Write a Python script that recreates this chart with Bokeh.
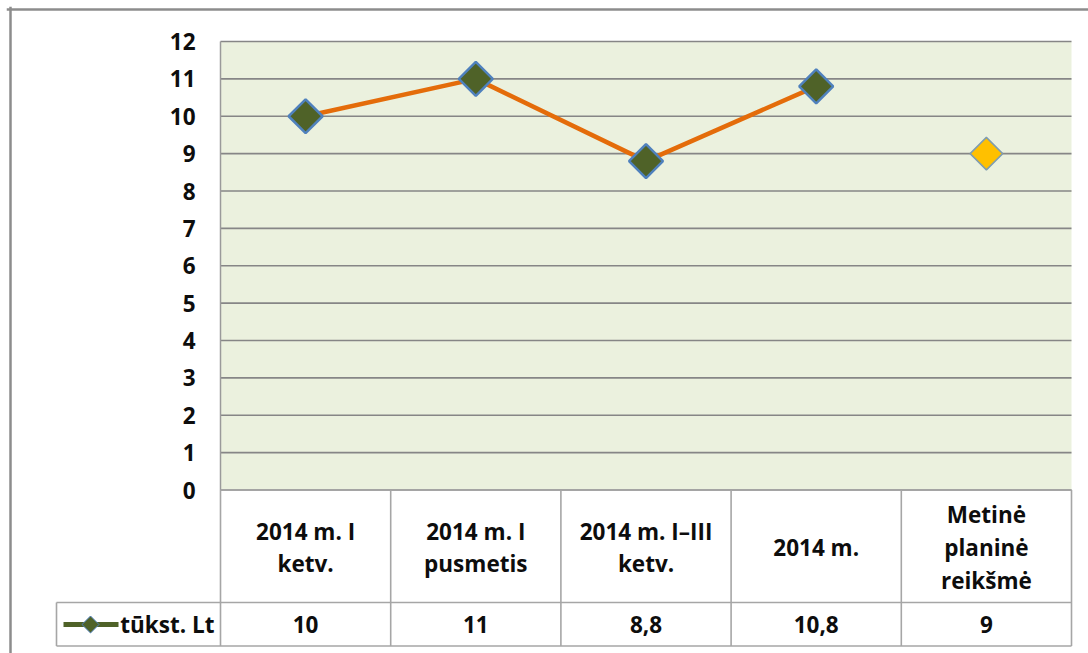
import numpy as np
from bokeh.plotting import figure
from bokeh.models import Range1d, LinearAxis, FixedTicker, ColumnDataSource, Span
from bokeh.core.properties import value
from bokeh.embed import file_html
from bokeh.resources import INLINE

# ---- data ----
categories = ["2014 m. I\nketv.", "2014 m. I\npusmetis", "2014 m. I\u2013III\nketv.",
              "2014 m.", "Metin\u0117\nplanin\u0117\nreik\u0161m\u0117"]
values = [10, 11, 8.8, 10.8, 9]
value_labels = ["10", "11", "8,8", "10,8", "9"]
series_name = "t\u016bkst. Lt"
y_ticks = list(range(0, 13))

# ---- layout constants (page pixels) ----
ORIGIN = 0              # where the figure lands on the page
W, H = 1088, 653
FL, FT = 6, 6           # frame left / top on page
FR, FB = ORIGIN + W, ORIGIN + H
PL, PR = 220, 1071      # plot area left / right
PT, P0 = 41, 489.5      # y=12 / y=0
n = len(categories)
cw = (PR - PL) / n
s = (P0 - PT) / 12.0

x_start = (FL - PL) / cw
x_end = (FR - PL) / cw
y_end = 12 + (PT - FT) / s
y_start = -(FB - P0) / s

def py(px):
    return -(px - P0) / s

def pxx(px):
    return (px - PL) / cw

row1_bot = py(602)
row2_bot = py(645.5)
leg_left = pxx(56)

FONT_NAME = "Open Sans"
FONT = value(FONT_NAME)
FS = "22.5px"
GRID = "#868686"
TAB = "#a6a6a6"
TXT = "#0d0d0d"

p = figure(width=W, height=H, output_backend="svg", toolbar_location=None,
           x_axis_type=None, y_axis_type=None,
           x_range=Range1d(x_start, x_end), y_range=Range1d(y_start, y_end),
           min_border_left=FL - ORIGIN, min_border_top=FT - ORIGIN,
           min_border_right=0, min_border_bottom=0)
p.grid.visible = False
p.outline_line_color = None
p.background_fill_color = "white"
p.border_fill_color = "white"

# chart-area border (left and top only are visible in the reference)
p.add_layout(Span(location=pxx(10), dimension="height", line_color="#8c8c8c", line_width=2.5))
p.add_layout(Span(location=py(9), dimension="width", line_color="#8c8c8c", line_width=2.5))

# plot area background
p.quad(left=[0], right=[n], bottom=[0], top=[12], fill_color="#EBF1DE", line_color=None)

# horizontal gridlines
p.segment(x0=[0] * len(y_ticks), x1=[n] * len(y_ticks), y0=y_ticks, y1=y_ticks,
          line_color=GRID, line_width=1.6)
# plot-area left border
p.segment(x0=[0], x1=[0], y0=[0], y1=[12], line_color="#9a9a9a", line_width=1.5)

# data table lines
hx0 = [0, leg_left, leg_left]
hx1 = [n, n, n]
hy = [0, row1_bot, row2_bot]
p.segment(x0=hx0, x1=hx1, y0=hy, y1=hy, line_color=TAB, line_width=1.6)
vx = list(range(n + 1))
p.segment(x0=vx, x1=vx, y0=[0] * len(vx), y1=[row2_bot] * len(vx), line_color=TAB, line_width=1.6)
p.segment(x0=[leg_left], x1=[leg_left], y0=[row1_bot], y1=[row2_bot], line_color=TAB, line_width=1.6)

xs = [i + 0.5 for i in range(n)]

# category labels
p.text(x=xs, y=[py(547)] * n, text=categories, text_font=FONT, text_font_style="bold",
       text_font_size=FS, text_align="center", text_baseline="middle",
       text_line_height=1.06, text_color=TXT)
# value labels
p.text(x=xs, y=[py(624)] * n, text=value_labels, text_font=FONT, text_font_style="bold",
       text_font_size=FS, text_align="center", text_baseline="middle", text_color=TXT)

# legend key in table
ly = py(624)
p.line(x=[pxx(63), pxx(118)], y=[ly, ly], line_color="#4F6228", line_width=5)
p.scatter(x=[pxx(90)], y=[ly], marker="square", angle=np.pi / 4, size=12,
          fill_color="#4F6228", line_color="#4F81BD", line_width=1)
p.text(x=[pxx(214)], y=[ly], text=[series_name], text_font=FONT, text_font_style="bold",
       text_font_size=FS, text_align="right", text_baseline="middle", text_color=TXT)

# series line (first four points)
src = ColumnDataSource(dict(x=xs[:4], y=values[:4]))
p.line(x="x", y="y", source=src, line_color="#E46C0A", line_width=4.5)
p.scatter(x="x", y="y", source=src, marker="square", angle=np.pi / 4, size=24,
          fill_color="#4F6228", line_color="#4F81BD", line_width=2.5)
# annual planned value
p.scatter(x=[xs[4]], y=[values[4]], marker="square", angle=np.pi / 4, size=23,
          fill_color="#FFC000", line_color="#7F9DB0", line_width=1.5)

# y axis placed at plot-area edge
yax = LinearAxis(fixed_location=0, ticker=FixedTicker(ticks=y_ticks),
                 axis_line_color=None, major_tick_line_color=None, minor_tick_line_color=None,
                 major_tick_out=0, major_tick_in=0,
                 major_label_standoff=25, major_label_text_font=FONT_NAME,
                 major_label_text_font_style="bold", major_label_text_font_size=FS,
                 major_label_text_color=TXT)
p.add_layout(yax, "left")

open("out.html", "w").write(file_html(p, INLINE))
